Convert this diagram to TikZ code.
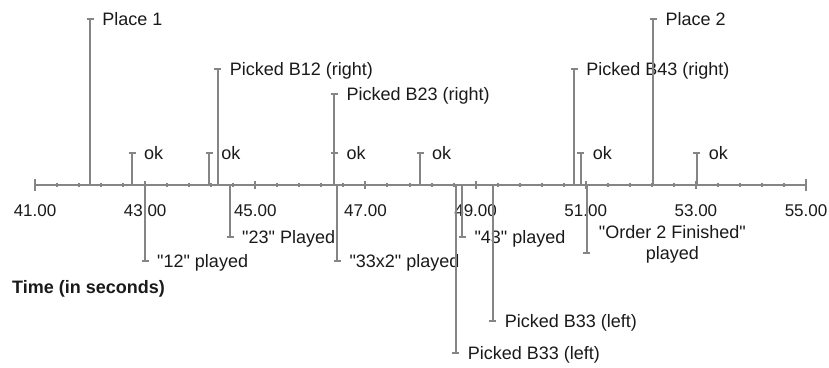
\documentclass[tikz,border=0pt]{standalone}
\usepackage{fontspec}
\setmainfont{Liberation Sans}[Ligatures=TeXOff]

\definecolor{stemgray}{HTML}{858585}
\definecolor{labelink}{HTML}{1A1A1A}

\tikzset{
    stem/.style={draw=stemgray, line width=2pt},
    evlabel/.style={text=labelink, font=\fontsize{18}{21}\selectfont,
        inner sep=0pt, anchor=base west, align=center},
    ticklabel/.style={text=labelink, font=\fontsize{17}{20}\selectfont,
        inner sep=0pt, anchor=base},
}

\begin{document}
\begin{tikzpicture}[x=55.07pt, y=-1pt]
    \useasboundingbox [fill=white] (40.3645,0) rectangle (55.4176,367);

    % time axis
    \coordinate (axis-start) at (41,185);
    \coordinate (axis-end) at (55,185);
    \draw [stem] (axis-start) -- (axis-end);

    \foreach \i in {0,...,35}
        \draw [stem] (41+0.4*\i,183) -- (41+0.4*\i,187);

    \foreach \t in {41,43,...,55} {
        \draw [stem] (\t,181) -- (\t,189);
        \node [ticklabel] (tick-\t) at (\t,216) {\t.00};
    }

    \draw [stem]
        (41,179) -- (41,191)
        (55,179) -- (55,191)
        ;

    % events above the axis
    \foreach \t/\y/\txt [count=\n] in {
            42.000/19/{Place 1},
            42.761/153/{ok},
            44.160/153/{ok},
            44.318/69/{Picked B12 (right)},
            46.435/94/{Picked B23 (right)},
            46.435/153/{ok},
            47.991/153/{ok},
            50.788/69/{Picked B43 (right)},
            50.909/153/{ok},
            52.228/19/{Place 2},
            53.016/153/{ok}} {
        \coordinate (above-\n) at (\t,185);
        \coordinate (abovetip-\n) at (\t,\y);
        \draw [stem] (above-\n) -- (abovetip-\n);
        \draw [stem] ([xshift=-3.5pt]abovetip-\n) -- ([xshift=3.5pt]abovetip-\n);
        \node [evlabel] (abovelabel-\n) at ([xshift=12pt,yshift=-6.4pt]abovetip-\n) {\txt};
    }

    % events below the axis
    \foreach \t/\y/\txt [count=\n] in {
            42.997/261/{"12" played},
            44.541/237/{"23" Played},
            46.489/261/{"33x2" played},
            48.759/237/{"43" played},
            48.639/353/{Picked B33 (left)},
            49.311/321/{Picked B33 (left)},
            51.018/253/{"Order 2 Finished"\\played}} {
        \coordinate (below-\n) at (\t,185);
        \coordinate (belowtip-\n) at (\t,\y);
        \draw [stem] (below-\n) -- (belowtip-\n);
        \draw [stem] ([xshift=-3.5pt]belowtip-\n) -- ([xshift=3.5pt]belowtip-\n);
        \node [evlabel] (belowlabel-\n) at ([xshift=12pt,yshift=-6.4pt]belowtip-\n) {\txt};
    }

    \node [evlabel, font=\fontsize{18}{21}\selectfont\bfseries]
        (axis-title) at (40.582,293.5) {Time (in seconds)};
\end{tikzpicture}
\end{document}
